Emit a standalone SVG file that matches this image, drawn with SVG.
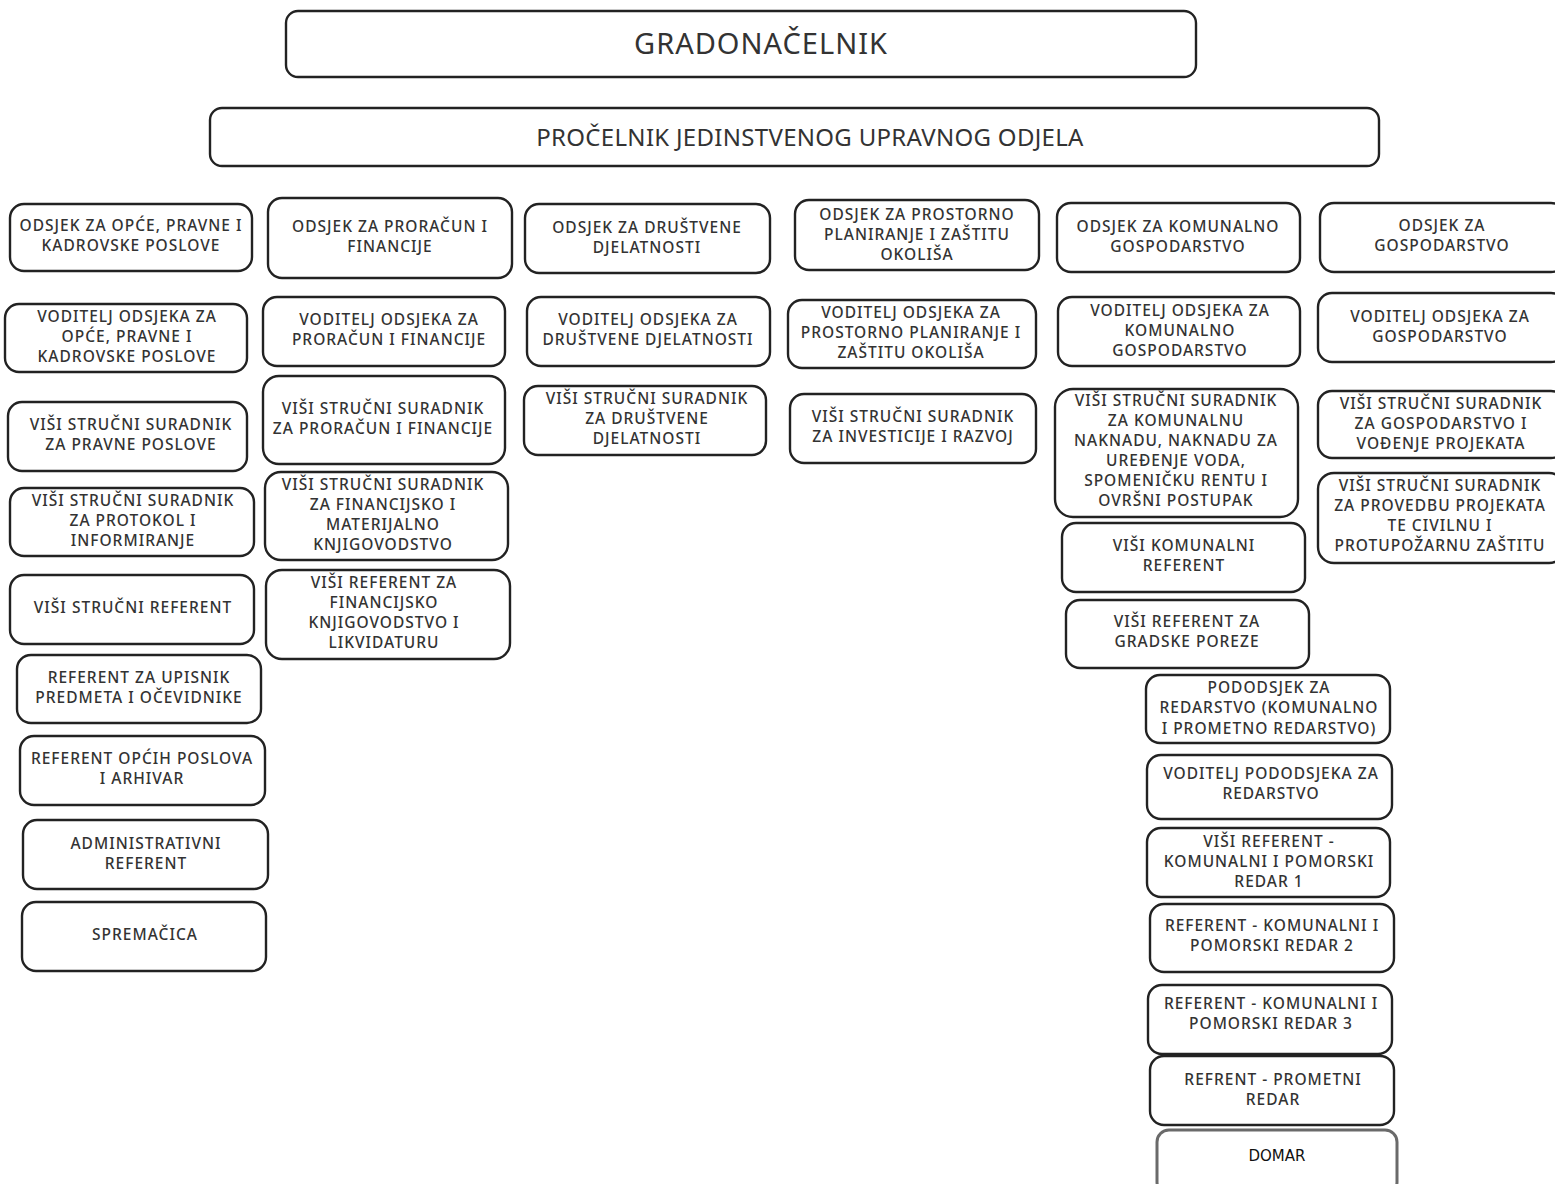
<svg xmlns="http://www.w3.org/2000/svg" width="1555" height="1184" viewBox="0 0 1555 1184">
<style>
.b{fill:#fff;stroke:#222;stroke-width:2.4}
.d{fill:#fff;stroke:#6a6a6a;stroke-width:3}
text{font-family:"Noto Sans","Liberation Sans",sans-serif;fill:#333;text-anchor:middle;font-size:15.5px;font-weight:500;letter-spacing:1px}
.t1{font-size:29px;font-weight:400;letter-spacing:1px}
.t2{font-size:24px;font-weight:400;letter-spacing:0.3px}
.dm{fill:#111;font-family:"DejaVu Sans",sans-serif;font-size:15px;font-weight:400;letter-spacing:0}
</style>
<rect width="1555" height="1184" fill="#fff"/>
<g id="connectors"></g>
<g id="gradonacelnik"><rect class="b" x="286" y="11" width="910" height="66" rx="12"/><text class="t1" x="761" y="54">GRADONAČELNIK</text></g>
<g id="procelnik"><rect class="b" x="210" y="108" width="1169" height="58" rx="12"/><text class="t2" x="810" y="146">PROČELNIK JEDINSTVENOG UPRAVNOG ODJELA</text></g>

<g id="a1"><rect class="b" x="10" y="204" width="242" height="67" rx="14"/><text><tspan x="131" y="231">ODSJEK ZA OPĆE, PRAVNE I</tspan><tspan x="131" y="251">KADROVSKE POSLOVE</tspan></text></g>
<g id="b1"><rect class="b" x="268" y="198" width="244" height="80" rx="14"/><text><tspan x="390" y="232">ODSJEK ZA PRORAČUN I</tspan><tspan x="390" y="252">FINANCIJE</tspan></text></g>
<g id="c1"><rect class="b" x="525" y="204" width="245" height="69" rx="14"/><text><tspan x="647" y="233">ODSJEK ZA DRUŠTVENE</tspan><tspan x="647" y="253">DJELATNOSTI</tspan></text></g>
<g id="d1"><rect class="b" x="795" y="200" width="244" height="70" rx="14"/><text><tspan x="917" y="220">ODSJEK ZA PROSTORNO</tspan><tspan x="917" y="240">PLANIRANJE I ZAŠTITU</tspan><tspan x="917" y="260">OKOLIŠA</tspan></text></g>
<g id="e1"><rect class="b" x="1057" y="203" width="243" height="69" rx="14"/><text><tspan x="1178" y="232">ODSJEK ZA KOMUNALNO</tspan><tspan x="1178" y="252">GOSPODARSTVO</tspan></text></g>
<g id="f1"><rect class="b" x="1320" y="203" width="245" height="69" rx="14"/><text><tspan x="1442" y="231">ODSJEK ZA</tspan><tspan x="1442" y="251">GOSPODARSTVO</tspan></text></g>

<g id="a2"><rect class="b" x="5" y="304" width="242" height="68" rx="14"/><text><tspan x="127" y="322">VODITELJ ODSJEKA ZA</tspan><tspan x="127" y="342">OPĆE, PRAVNE I</tspan><tspan x="127" y="362">KADROVSKE POSLOVE</tspan></text></g>
<g id="b2"><rect class="b" x="263" y="297" width="242" height="69" rx="14"/><text><tspan x="389" y="325">VODITELJ ODSJEKA ZA</tspan><tspan x="389" y="345">PRORAČUN I FINANCIJE</tspan></text></g>
<g id="c2"><rect class="b" x="527" y="297" width="243" height="69" rx="14"/><text><tspan x="648" y="325">VODITELJ ODSJEKA ZA</tspan><tspan x="648" y="345">DRUŠTVENE DJELATNOSTI</tspan></text></g>
<g id="d2"><rect class="b" x="788" y="300" width="248" height="68" rx="14"/><text><tspan x="911" y="318">VODITELJ ODSJEKA ZA</tspan><tspan x="911" y="338">PROSTORNO PLANIRANJE I</tspan><tspan x="911" y="358">ZAŠTITU OKOLIŠA</tspan></text></g>
<g id="e2"><rect class="b" x="1058" y="297" width="242" height="69" rx="14"/><text><tspan x="1180" y="316">VODITELJ ODSJEKA ZA</tspan><tspan x="1180" y="336">KOMUNALNO</tspan><tspan x="1180" y="356">GOSPODARSTVO</tspan></text></g>
<g id="f2"><rect class="b" x="1318" y="293" width="247" height="69" rx="14"/><text><tspan x="1440" y="322">VODITELJ ODSJEKA ZA</tspan><tspan x="1440" y="342">GOSPODARSTVO</tspan></text></g>

<g id="a3"><rect class="b" x="8" y="402" width="239" height="69" rx="14"/><text><tspan x="131" y="430">VIŠI STRUČNI SURADNIK</tspan><tspan x="131" y="450">ZA PRAVNE POSLOVE</tspan></text></g>
<g id="b3"><rect class="b" x="263" y="376" width="242" height="88" rx="16"/><text><tspan x="383" y="414">VIŠI STRUČNI SURADNIK</tspan><tspan x="383" y="434">ZA PRORAČUN I FINANCIJE</tspan></text></g>
<g id="c3"><rect class="b" x="524" y="386" width="242" height="69" rx="14"/><text><tspan x="647" y="404">VIŠI STRUČNI SURADNIK</tspan><tspan x="647" y="424">ZA DRUŠTVENE</tspan><tspan x="647" y="444">DJELATNOSTI</tspan></text></g>
<g id="d3"><rect class="b" x="790" y="394" width="246" height="69" rx="14"/><text><tspan x="913" y="422">VIŠI STRUČNI SURADNIK</tspan><tspan x="913" y="442">ZA INVESTICIJE I RAZVOJ</tspan></text></g>
<g id="e3"><rect class="b" x="1055" y="389" width="243" height="128" rx="18"/><text><tspan x="1176" y="406">VIŠI STRUČNI SURADNIK</tspan><tspan x="1176" y="426">ZA KOMUNALNU</tspan><tspan x="1176" y="446">NAKNADU, NAKNADU ZA</tspan><tspan x="1176" y="466">UREĐENJE VODA,</tspan><tspan x="1176" y="486">SPOMENIČKU RENTU I</tspan><tspan x="1176" y="506">OVRŠNI POSTUPAK</tspan></text></g>
<g id="f3"><rect class="b" x="1318" y="391" width="247" height="67" rx="14"/><text><tspan x="1441" y="409">VIŠI STRUČNI SURADNIK</tspan><tspan x="1441" y="429">ZA GOSPODARSTVO I</tspan><tspan x="1441" y="449">VOĐENJE PROJEKATA</tspan></text></g>

<g id="a4"><rect class="b" x="10" y="488" width="244" height="68" rx="14"/><text><tspan x="133" y="506">VIŠI STRUČNI SURADNIK</tspan><tspan x="133" y="526">ZA PROTOKOL I</tspan><tspan x="133" y="546">INFORMIRANJE</tspan></text></g>
<g id="b4"><rect class="b" x="265" y="472" width="243" height="88" rx="16"/><text><tspan x="383" y="490">VIŠI STRUČNI SURADNIK</tspan><tspan x="383" y="510">ZA FINANCIJSKO I</tspan><tspan x="383" y="530">MATERIJALNO</tspan><tspan x="383" y="550">KNJIGOVODSTVO</tspan></text></g>
<g id="e4"><rect class="b" x="1062" y="523" width="243" height="69" rx="14"/><text><tspan x="1184" y="551">VIŠI KOMUNALNI</tspan><tspan x="1184" y="571">REFERENT</tspan></text></g>
<g id="f4"><rect class="b" x="1318" y="473" width="247" height="90" rx="16"/><text><tspan x="1440" y="491">VIŠI STRUČNI SURADNIK</tspan><tspan x="1440" y="511">ZA PROVEDBU PROJEKATA</tspan><tspan x="1440" y="531">TE CIVILNU I</tspan><tspan x="1440" y="551">PROTUPOŽARNU ZAŠTITU</tspan></text></g>

<g id="a5"><rect class="b" x="10" y="575" width="244" height="69" rx="14"/><text><tspan x="133" y="613">VIŠI STRUČNI REFERENT</tspan></text></g>
<g id="b5"><rect class="b" x="266" y="570" width="244" height="89" rx="16"/><text><tspan x="384" y="588">VIŠI REFERENT ZA</tspan><tspan x="384" y="608">FINANCIJSKO</tspan><tspan x="384" y="628">KNJIGOVODSTVO I</tspan><tspan x="384" y="648">LIKVIDATURU</tspan></text></g>
<g id="e5"><rect class="b" x="1066" y="600" width="243" height="68" rx="14"/><text><tspan x="1187" y="627">VIŠI REFERENT ZA</tspan><tspan x="1187" y="647">GRADSKE POREZE</tspan></text></g>

<g id="a6"><rect class="b" x="17" y="655" width="244" height="68" rx="14"/><text><tspan x="139" y="683">REFERENT ZA UPISNIK</tspan><tspan x="139" y="703">PREDMETA I OČEVIDNIKE</tspan></text></g>
<g id="a7"><rect class="b" x="20" y="736" width="245" height="69" rx="14"/><text><tspan x="142" y="764">REFERENT OPĆIH POSLOVA</tspan><tspan x="142" y="784">I ARHIVAR</tspan></text></g>
<g id="a8"><rect class="b" x="23" y="820" width="245" height="69" rx="14"/><text><tspan x="146" y="849">ADMINISTRATIVNI</tspan><tspan x="146" y="869">REFERENT</tspan></text></g>
<g id="a9"><rect class="b" x="22" y="902" width="244" height="69" rx="14"/><text><tspan x="145" y="940">SPREMAČICA</tspan></text></g>

<g id="e6"><rect class="b" x="1146" y="675" width="244" height="68" rx="14"/><text><tspan x="1269" y="693">PODODSJEK ZA</tspan><tspan x="1269" y="713">REDARSTVO (KOMUNALNO</tspan><tspan x="1269" y="734">I PROMETNO REDARSTVO)</tspan></text></g>
<g id="e7"><rect class="b" x="1147" y="755" width="245" height="64" rx="14"/><text><tspan x="1271" y="779">VODITELJ PODODSJEKA ZA</tspan><tspan x="1271" y="799">REDARSTVO</tspan></text></g>
<g id="e8"><rect class="b" x="1147" y="828" width="243" height="69" rx="14"/><text><tspan x="1269" y="847">VIŠI REFERENT -</tspan><tspan x="1269" y="867">KOMUNALNI I POMORSKI</tspan><tspan x="1269" y="887">REDAR 1</tspan></text></g>
<g id="e9"><rect class="b" x="1150" y="904" width="244" height="68" rx="14"/><text><tspan x="1272" y="931">REFERENT - KOMUNALNI I</tspan><tspan x="1272" y="951">POMORSKI REDAR 2</tspan></text></g>
<g id="e10"><rect class="b" x="1148" y="985" width="244" height="69" rx="14"/><text><tspan x="1271" y="1009">REFERENT - KOMUNALNI I</tspan><tspan x="1271" y="1029">POMORSKI REDAR 3</tspan></text></g>
<g id="e11"><rect class="b" x="1150" y="1056" width="244" height="69" rx="14"/><text><tspan x="1273" y="1085">REFRENT - PROMETNI</tspan><tspan x="1273" y="1105">REDAR</tspan></text></g>
<g id="e12"><rect class="d" x="1157" y="1130" width="240" height="64" rx="12"/><text class="dm" x="1277" y="1161">DOMAR</text></g>
</svg>
